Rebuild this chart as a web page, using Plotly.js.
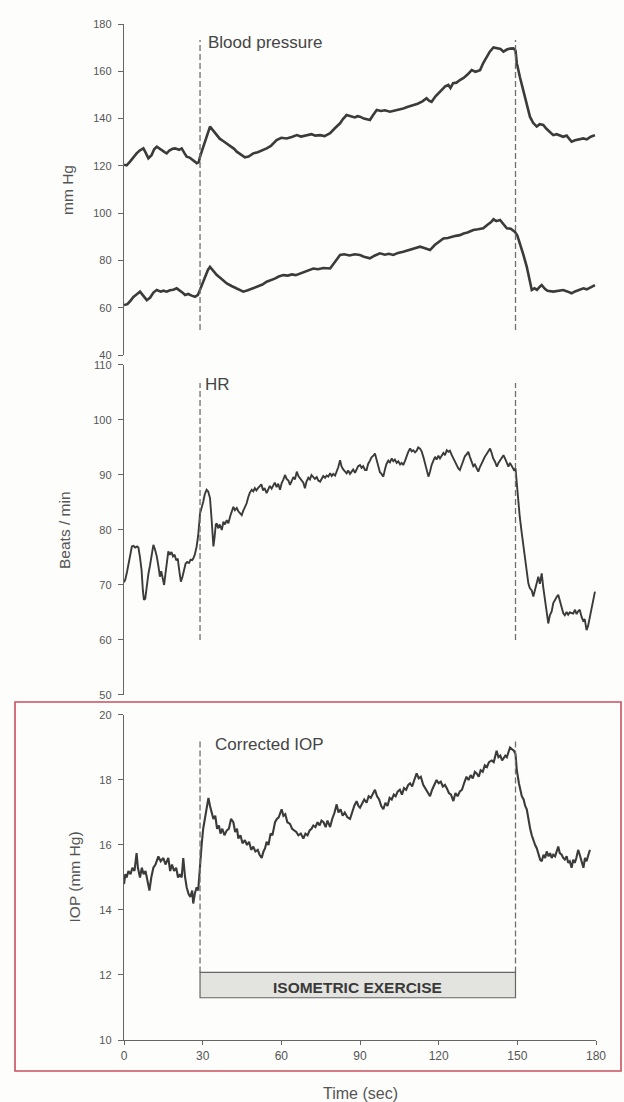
<!DOCTYPE html>
<html>
<head>
<meta charset="utf-8">
<script src="https://cdn.plot.ly/plotly-3.0.1.min.js"></script>
<style>html,body{margin:0;padding:0;background:#fff;}#chart{width:624px;height:1102px;}</style>
</head>
<body>
<div id="chart"></div>
<script>
// ---- Data ----
const xTicks = [0, 30, 60, 90, 120, 150, 180];

const sysTime = [0,1,2.3,3.5,4.8,6,7.4,8.3,9.3,10.5,11.5,12.5,13.5,14.5,15.5,16.3,17.3,18.5,19.5,21,22,23,23.9,25,26,27,27.7,28.5,29,30,31,32,32.8,33.8,35.4,36.5,37.8,39.2,40.5,42,43,44.5,46.1,47.5,49.3,51,52.8,54.4,56,57,58.2,60,62,64,65.9,67.5,69.7,71.5,73,74.8,76.5,78.6,80.5,82.4,83.5,84.9,86.5,88,89,90,91.5,92.5,93.8,95,96.4,98,99.5,101.4,103,104.5,106.5,108.3,110.3,112,113.8,115.4,116.3,117.3,118.8,120.5,121.5,122.5,123.7,124.5,125.5,126.8,128.1,129.5,131,132.6,134,135.8,137,138.3,139.5,140.9,142.5,143.6,144.7,146,147.2,148.5,149.3,149.8,151,152.3,153.5,154.8,156,157.4,158.5,159.9,161,162.5,163.7,165,166.3,167.5,168.8,170,170.7,172,173.5,175.2,176.5,178,179.6];
const sysBP = [120.5,120.2,121.8,123.5,125.3,126.5,127.4,125.5,123.2,124.5,127,128.1,127.2,126.5,125.8,125.3,126.5,127.2,127.4,126.8,127.4,125.5,123.9,123.5,122.8,121.8,121.1,121.5,123.9,127.5,131,134.5,136.6,135.2,133,131.5,130.5,129.5,128.5,127.2,126,125,123.6,123.9,125.3,125.8,126.5,127.4,128.4,129.6,130.9,131.9,131.6,132.2,133,132.4,133,133.4,132.8,133,132.6,133.8,136,138,139.8,141.5,141,140.5,141,140.8,140,139.6,139.4,141.5,143.6,143.2,143.5,142.9,143.3,143.6,144.3,145,145.7,146.3,147.3,148.6,147.6,147.1,149.4,151.4,152.3,153.6,154.2,152.9,155,155.2,156.3,157.2,158.6,160.5,159.8,160.5,163.5,166.2,168.3,170.1,169.6,169.4,168.3,169.2,169.6,169.7,168.8,163.4,157.5,152.1,146.5,140.8,138.2,136.6,137.6,137.3,135.8,134.2,133,133.4,132.8,132.3,132.8,131.2,130.2,130.8,131.2,131.6,131.2,132.3,133];

const diaTime = [0,1.3,2.5,3.6,5,6.1,7.4,8.7,10,11.2,12.5,14,15,16.3,17.5,18.8,20.1,21.5,22.5,23.3,24.5,25.8,27.1,28.2,29.6,30.8,32,32.8,34,35.4,37,39.2,41,43,45.5,47.2,49.3,51,52.8,54.4,56,57.5,59,60.8,62.5,64,65.5,67.1,68.5,70,72.2,74,76,78.6,80.5,82.4,84,86,88,90,91.5,93.8,95.5,97.6,99.5,101,102.7,104.5,106.5,108.5,110.5,112.9,114.5,116.7,118.5,120.2,121.8,123.5,125,126.5,128.1,129.5,131,133.2,135,137,138.5,140,140.9,142,143.4,144.5,146,147.5,149.1,150,151,152.3,153.6,154.5,155.5,156.5,157.5,158.5,159.3,160.5,161.5,163.7,165.5,167.5,169,170.7,172,173.5,175.2,176.5,178,179.6];
const diaBP = [61.1,61.5,63,64.6,65.8,66.8,65,63.2,64.3,66.4,67.5,66.8,67.2,66.8,67.4,67.6,68.2,67.2,66.2,65.4,65.8,65.1,64.6,65.4,69.6,73,76,77.3,75.6,73.8,72.4,70.3,69.2,68,66.8,67.4,68.2,69.1,69.8,71,71.6,72.3,73.2,73.8,73.6,74.1,73.8,74.5,75.1,75.8,76.6,76.3,76.8,76.6,79.5,82.3,82.6,82.1,82.6,82.3,81.6,80.9,82,83,82.4,82.8,82.3,83.2,83.7,84.4,85.1,85.8,85.3,84.4,86.5,88,89.3,89.5,90.1,90.4,90.7,91.4,91.8,92.9,93.2,93.6,95,96.2,97.4,96.6,97.1,95.8,93.6,93.4,92.1,90.5,87.2,82.5,77.3,72,67.5,68.2,67.6,68.8,69.6,68,67.2,66.8,67.2,67.5,66.9,66.1,66.9,67.6,68.2,67.8,68.8,69.6];

const hrTime = [0,0.5,1.2,1.8,2.3,3,3.6,4.3,5,5.5,6.1,6.7,7.2,7.6,8.1,8.6,9.3,9.9,10.5,11.2,11.8,12.5,13.1,13.7,14.2,14.7,15.3,15.8,16.4,16.9,17.5,18.1,18.7,19.3,19.9,20.5,21.1,21.7,22.3,22.9,23.5,24.1,24.8,25.4,26,26.4,27,27.7,28.3,29,29.6,30.2,30.8,31.5,32.1,32.8,33.4,33.8,34.1,34.5,35,35.4,35.9,36.5,37.3,37.9,38.5,39.2,39.8,40.5,41.1,41.7,42.3,43,43.6,44.2,44.9,45.5,46.2,46.8,47.4,48,48.7,49.3,49.9,50.5,51.1,51.8,52.4,53,53.6,54.4,55,55.6,56.3,56.9,57.5,58.2,58.8,59.5,60.1,60.8,61.4,62,62.7,63.3,63.9,64.6,65.2,65.9,66.5,67.1,67.8,68.4,69,69.6,70.3,70.9,71.5,72.2,72.8,73.5,74.1,74.8,75.4,76,76.7,77.3,77.9,78.6,79.2,79.8,80.5,81.1,81.7,82.4,83,83.6,84.3,84.9,85.5,86.2,86.8,87.4,88.1,88.7,89.3,90,90.6,91.2,91.9,92.5,93.1,93.8,94.4,95.1,95.7,96.3,97,97.6,98.2,98.9,99.5,100.1,100.8,101.4,102.1,102.7,103.3,104,104.6,105.3,105.9,106.5,107.2,107.8,108.4,109.1,109.7,110.3,111,111.6,112.2,112.9,113.5,114.2,114.8,115.4,116.1,116.7,117.3,118,118.6,119.2,119.9,120.5,121.1,121.8,122.4,123.1,123.7,124.3,125,125.6,126.2,126.9,127.5,128.1,128.8,129.4,130,130.7,131.3,131.9,132.6,133.2,133.8,134.5,135.1,135.7,136.4,137,137.6,138.3,138.9,139.6,140.2,140.8,141.5,142.2,142.8,143.4,144,144.7,145.3,146,146.6,147.2,147.8,148.7,149.3,149.8,150.3,150.9,151.7,152.3,152.9,153.6,154.2,154.8,155.5,156.1,156.7,157.4,158,158.6,159.3,159.9,160.5,161.2,161.8,162.4,163.1,163.7,164.3,165,165.6,166.2,166.9,167.5,168.1,168.8,169.4,170,170.7,171.3,172,172.6,173.2,173.8,174.5,175.1,175.7,176.4,177,177.6,178.3,178.9,179.6];
const hrBeats = [70.5,71,72.5,74,75.5,77,77.1,76.8,77,76.8,75,72.7,69,67.3,67.5,69.5,72,73.5,75.5,77.3,76.5,75.2,73.5,71.5,72.5,71,70,72,74.5,76.1,75.5,76,75.2,75.5,74.5,74.8,72.5,70.6,71.5,72.8,73.9,74.2,74,74.6,74.5,74.8,75.5,77,79,83,84,85.1,86.5,87.3,87,85.8,82,79,77,78.5,81,81.2,80.3,81,80,81.5,81,81.8,81.2,82.5,83.5,84.2,83.6,84,83.4,83,82.7,83.5,84.3,84.9,86,86.8,87.3,87,87.6,87.2,87.6,87.9,88.3,87.2,87.6,86.7,87.5,88,87.5,88.2,88.6,87.8,88.4,87.3,88.5,89.2,90,89.3,89,88.2,89,89.6,89.2,90.6,89.8,89.4,88.8,88.6,87.6,88.8,89.5,89.2,90,89.6,89.3,89.6,89,88.8,89.4,89.8,89.5,89.9,89.7,90.3,89.8,90.2,89.9,90.6,91.4,92.7,91.5,91,90.6,90.3,90.8,90.2,90.6,91,90.4,91.2,91.6,91.8,91.3,91.6,90.9,90.9,92,92.6,93.2,93.5,93.9,92.8,91.5,90.5,90.2,89.7,91,92,92.6,92.3,93,92.5,92.8,92.2,92.5,91.9,92.2,91.8,92.6,93.5,94.2,94.8,94.3,94.5,94.1,94.4,95,94.8,94.3,93.2,92,90.8,89.7,90.6,91.8,92.6,93.3,92.8,93.5,93,93.6,94,93.6,94.5,94.2,94.4,93.6,93,92.2,91.6,91.2,90.9,91.8,92.6,93.4,93.8,94.2,93.3,92.4,91.6,91.9,91.2,90.6,91.4,92.2,92.8,93.3,93.8,94.4,94.8,94,93,92.4,91.5,92.2,92.6,93.1,93.6,93,92.3,91.5,92.2,91.6,90.9,91.2,88.5,84.9,82.5,79.4,77,75.2,72.5,70.3,69.4,69,67.9,69.2,70.6,71.5,70.2,72.1,69.5,67.2,64.8,63,64.5,65.2,66.7,67.3,67.8,68.2,67.2,65.6,64.9,64.5,65.1,64.6,65,64.9,64.8,65.5,64.7,65.2,65.5,64.2,63.5,63.8,61.8,62.6,64,65.5,67,68.8];

const iopTime = [0,0.5,1,1.7,2.5,3.2,4,4.8,5.3,6.1,6.8,7.5,8.2,9,9.7,10.4,11.2,12,13.1,14,15,15.8,16.9,17.6,18.3,19.1,19.9,20.6,21.3,22,22.6,23.3,23.9,24.6,25.3,26,26.4,27,27.7,28.3,29,29.6,30.2,31,31.6,32.2,32.8,33.5,34.1,34.8,35.5,36.2,36.8,37.5,38.3,39.2,40,40.8,41.7,42.4,43.1,43.6,44.4,45.2,46.1,46.9,47.7,48.5,49.3,50.1,51,51.7,52.5,53.2,53.8,54.4,55.1,55.9,56.6,57.6,58.3,59,59.6,60.1,60.8,61.5,62.3,63.3,64.1,64.9,65.7,66.5,67.4,68.4,69.2,70,70.8,71.5,72.2,73,73.8,74.6,75.3,76.1,76.9,77.6,78.6,79.4,80.3,81.1,81.8,82.6,83.4,84.2,85.2,86.2,87,87.8,88.7,89.4,90,90.8,91.6,92.5,93.3,94.1,94.9,95.7,96.5,97.3,98.1,98.9,99.7,100.5,101.3,102.1,102.9,103.6,104.4,105.2,106,106.8,107.6,108.4,109.1,109.9,110.7,111.6,112.4,113.2,114.1,114.9,115.7,116.7,117.5,118.3,119.2,120,120.8,121.6,122.4,123.1,123.9,124.7,125.6,126.4,127.2,128.1,128.9,129.7,130.6,131.4,132.2,133,133.8,134.5,135.3,136,136.8,137.6,138.4,139.2,140.2,141,141.6,142.1,142.8,143.5,144.2,144.7,145.4,146,146.7,147.2,147.9,148.7,149.3,149.8,150.6,151.2,151.7,152.4,153,153.6,154.2,154.9,155.5,156.2,156.8,157.4,158,158.7,159.3,160,160.6,161.2,161.9,162.5,163.1,163.7,164.4,165,165.6,166.2,166.9,167.5,168.1,168.8,169.4,170,170.7,171.3,171.9,172.5,173.2,173.8,174.4,175.2,175.8,176.4,177.1,177.7];
const iopMmHg = [14.8,15.1,15,15.2,15.1,15.3,15.2,15.75,15.3,15,15.3,15.1,15.2,14.9,14.6,15,15.3,15.4,15.65,15.5,15.6,15.4,15.6,15.2,15.4,15.2,15.3,15,15.1,15,15.6,15,14.7,14.5,14.4,14.6,14.2,14.5,14.7,14.6,15.5,16,16.5,16.9,17.2,17.45,17.2,17,16.8,16.9,16.5,16.6,16.35,16.5,16.3,16.45,16.5,16.8,16.7,16.4,16.5,16.2,16.3,16.05,16.15,16,16.1,15.85,15.95,15.8,15.85,15.7,15.6,15.8,15.9,16.1,16,16.35,16.3,16.7,16.8,16.85,17,17.1,16.9,16.95,16.7,16.65,16.5,16.45,16.4,16.3,16.35,16.2,16.35,16.3,16.45,16.5,16.6,16.55,16.7,16.6,16.75,16.7,16.55,16.75,16.55,16.8,17,17.25,17,17.1,16.9,17,16.85,16.8,17,17.2,17.35,17.2,17.15,17.3,17.4,17.3,17.5,17.45,17.6,17.7,17.5,17.4,17.2,17.1,17.3,17.2,17.45,17.4,17.55,17.5,17.65,17.7,17.55,17.75,17.7,17.85,17.9,17.8,18,18.2,18.05,18.1,17.85,17.75,17.65,17.5,17.7,17.85,18,17.9,17.95,17.8,17.85,17.75,17.6,17.55,17.35,17.6,17.5,17.65,17.7,17.9,18.1,18,18.15,18.05,18.25,18.2,18.1,18.3,18.25,18.45,18.4,18.55,18.6,18.55,18.75,18.9,18.7,18.75,18.6,18.65,18.75,18.7,18.9,19,18.95,18.9,18.8,18.3,17.9,17.7,17.5,17.4,17.2,17.1,16.8,16.5,16.3,16.1,16,15.9,15.7,15.55,15.5,15.7,15.6,15.8,15.65,15.75,15.6,15.7,15.65,15.8,15.95,15.75,15.7,15.6,15.55,15.65,15.45,15.5,15.3,15.55,15.45,15.6,15.85,15.7,15.5,15.3,15.6,15.5,15.7,15.85];

const panelLabels = ["Blood pressure", "HR", "Corrected IOP"];
const axisTitles = ["mm Hg", "Beats / min", "IOP (mm Hg)", "Time (sec)"];
const exerciseLabel = "ISOMETRIC EXERCISE";
const exerciseStart = 29, exerciseEnd = 149.3;

// ---- Plot ----
const lineCol = '#3b3b3b';
const traces = [
  {x: sysTime, y: sysBP, xaxis: 'x', yaxis: 'y', mode: 'lines', line: {color: lineCol, width: 2.6}, hoverinfo: 'skip'},
  {x: diaTime, y: diaBP, xaxis: 'x', yaxis: 'y', mode: 'lines', line: {color: lineCol, width: 2.6}, hoverinfo: 'skip'},
  {x: hrTime, y: hrBeats, xaxis: 'x', yaxis: 'y2', mode: 'lines', line: {color: lineCol, width: 1.9}, hoverinfo: 'skip'},
  {x: iopTime, y: iopMmHg, xaxis: 'x', yaxis: 'y3', mode: 'lines', line: {color: lineCol, width: 2.1}, hoverinfo: 'skip'}
];

const FONT = 'Liberation Sans, Arial, sans-serif';
const tickFont = {family: FONT, size: 11, color: '#555555'};
const yBase = {anchor: 'x', showline: true, linecolor: '#666', linewidth: 1.2, ticks: 'outside', ticklen: 5, tickcolor: '#666', tickwidth: 1, showgrid: false, zeroline: false, tickfont: tickFont, ticklabelstandoff: 4, fixedrange: true};

const dash = {color: '#6f6f6f', width: 1.3, dash: '6px,3px'};
const shapes = [
  {type: 'line', xref: 'x', yref: 'y', x0: exerciseStart, x1: exerciseStart, y0: 50.6, y1: 173.2, line: dash},
  {type: 'line', xref: 'x', yref: 'y', x0: exerciseEnd, x1: exerciseEnd, y0: 50.6, y1: 173.2, line: dash},
  {type: 'line', xref: 'x', yref: 'y2', x0: exerciseStart, x1: exerciseStart, y0: 60, y1: 106.7, line: dash},
  {type: 'line', xref: 'x', yref: 'y2', x0: exerciseEnd, x1: exerciseEnd, y0: 60, y1: 106.7, line: dash},
  {type: 'line', xref: 'x', yref: 'y3', x0: exerciseStart, x1: exerciseStart, y0: 12.08, y1: 19.28, line: dash},
  {type: 'line', xref: 'x', yref: 'y3', x0: exerciseEnd, x1: exerciseEnd, y0: 12.08, y1: 19.28, line: dash},
  {type: 'rect', xref: 'x', yref: 'y3', x0: exerciseStart, x1: exerciseEnd, y0: 11.3, y1: 12.08, fillcolor: '#e3e3df', line: {color: '#666', width: 1.2}},
  {type: 'rect', xref: 'paper', yref: 'paper', x0: -0.2309, x1: 1.053, y0: -0.0305, y1: 0.3327, fillcolor: 'rgba(0,0,0,0)', line: {color: '#c9505c', width: 1.6}}
];

const annFont = {family: FONT, size: 17, color: '#454545'};
const titleFont = {family: FONT, size: 15.5, color: '#555'};
const annotations = [
  {text: panelLabels[0], xref: 'x', yref: 'y', x: 31.3, y: 172, xanchor: 'left', yanchor: 'middle', showarrow: false, font: annFont},
  {text: panelLabels[1], xref: 'x', yref: 'y2', x: 30.3, y: 106.5, xanchor: 'left', yanchor: 'middle', showarrow: false, font: annFont},
  {text: panelLabels[2], xref: 'x', yref: 'y3', x: 34.1, y: 19.1, xanchor: 'left', yanchor: 'middle', showarrow: false, font: annFont},
  {text: '<b>' + exerciseLabel + '</b>', xref: 'x', yref: 'y3', x: 88.9, y: 11.62, xanchor: 'center', yanchor: 'middle', showarrow: false, font: {family: FONT, size: 15.5, color: '#3a3a3a'}},
  {text: axisTitles[0], xref: 'paper', yref: 'paper', x: -0.1208, y: 0.8366, textangle: -90, xanchor: 'center', yanchor: 'middle', showarrow: false, font: titleFont},
  {text: axisTitles[1], xref: 'paper', yref: 'paper', x: -0.125, y: 0.502, textangle: -90, xanchor: 'center', yanchor: 'middle', showarrow: false, font: titleFont},
  {text: axisTitles[2], xref: 'paper', yref: 'paper', x: -0.1059, y: 0.16, textangle: -90, xanchor: 'center', yanchor: 'middle', showarrow: false, font: titleFont},
  {text: axisTitles[3], xref: 'paper', yref: 'paper', x: 0.502, y: -0.0522, xanchor: 'center', yanchor: 'middle', showarrow: false, font: {family: FONT, size: 16, color: '#555'}}
];

const layout = {
  width: 624, height: 1102,
  margin: {l: 124, r: 28, t: 24, b: 62, pad: 0},
  paper_bgcolor: '#fdfdfc', plot_bgcolor: 'rgba(0,0,0,0)',
  showlegend: false,
  xaxis: {domain: [0, 1], range: [0, 180], anchor: 'y3', tickvals: xTicks, ticks: 'outside', ticklen: 4, tickcolor: '#666', showline: true, linecolor: '#666', linewidth: 1.2, showgrid: false, zeroline: false, tickfont: {family: FONT, size: 12, color: '#555555'}, fixedrange: true},
  yaxis: Object.assign({}, yBase, {domain: [0.6742, 1], range: [40, 180], dtick: 20, tick0: 40}),
  yaxis2: Object.assign({}, yBase, {domain: [0.3396, 0.6644], range: [50, 110], dtick: 10, tick0: 50}),
  yaxis3: Object.assign({}, yBase, {domain: [0, 0.3199], range: [10, 20], dtick: 2, tick0: 10}),
  shapes: shapes,
  annotations: annotations
};

Plotly.newPlot('chart', traces, layout, {staticPlot: true, displayModeBar: false});
</script>
</body>
</html>
